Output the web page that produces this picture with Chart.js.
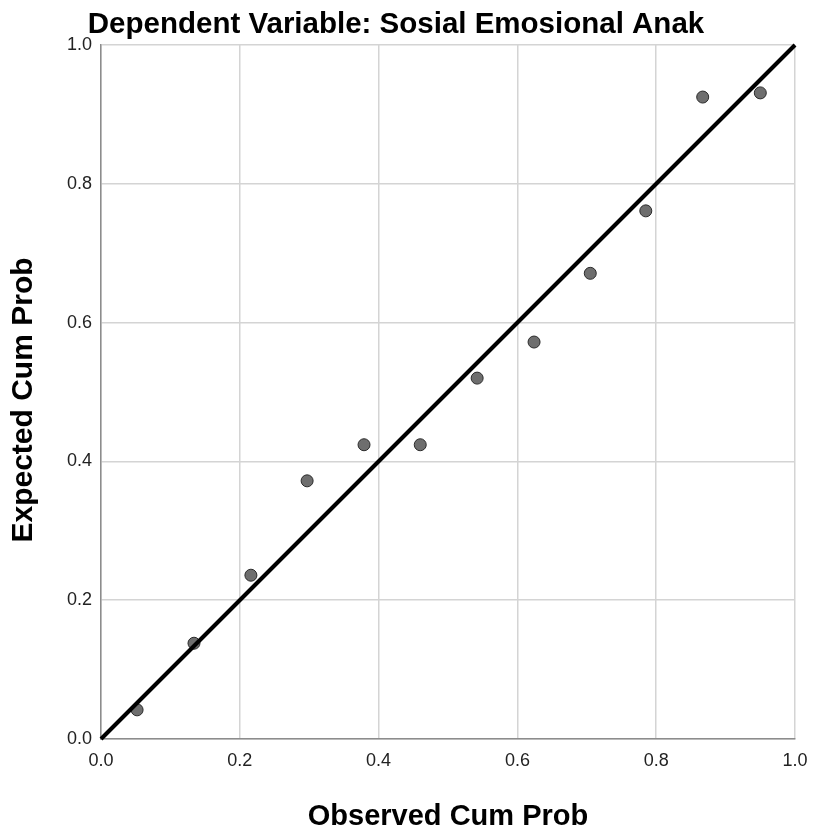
<!DOCTYPE html>
<html>
<head>
<meta charset="utf-8">
<script src="https://cdn.jsdelivr.net/npm/chart.js@4"></script>
<style>
  html, body { margin: 0; padding: 0; background: #fff; }
  #wrap { width: 814px; height: 833px; position: relative; }
</style>
</head>
<body>
<div id="wrap"><canvas id="ppPlot"></canvas></div>
<script>
// Data z grafu (P-P plot)
const chartTitle = 'Dependent Variable: Sosial Emosional Anak';
const xAxisTitle = 'Observed Cum Prob';
const yAxisTitle = 'Expected Cum Prob';
const observedCumProb = [0.052, 0.134, 0.216, 0.297, 0.379, 0.460, 0.542, 0.624, 0.705, 0.785, 0.867, 0.950];
const expectedCumProb = [0.042, 0.138, 0.236, 0.372, 0.424, 0.424, 0.520, 0.572, 0.671, 0.761, 0.925, 0.931];
const refLineX = [0, 1];
const refLineY = [0, 1];
const tickValues = [0, 0.2, 0.4, 0.6, 0.8, 1.0];

const FONT = "'Liberation Sans', Arial, sans-serif";

// Nadpis a názvy osí kreslené vlastným pluginom
const textPlugin = {
    id: 'texts',
    afterDraw(chart) {
        const ctx = chart.ctx;
        const area = chart.chartArea;
        const cx = (area.left + area.right) / 2;
        const cy = (area.top + area.bottom) / 2;
        ctx.save();
        ctx.fillStyle = '#000';
        ctx.textAlign = 'center';
        ctx.textBaseline = 'alphabetic';

        ctx.font = 'bold 29.5px ' + FONT;
        ctx.fillText(chartTitle, 396, 33);

        ctx.font = 'bold 29px ' + FONT;
        ctx.fillText(xAxisTitle, cx, 825);

        ctx.font = 'bold 30px ' + FONT;
        ctx.translate(32, cy + 8);
        ctx.rotate(-Math.PI / 2);
        ctx.fillText(yAxisTitle, 0, 0);
        ctx.restore();
    }
};

function createChart() {
    const ctx = document.getElementById('ppPlot').getContext('2d');
    const points = observedCumProb.map((x, i) => ({ x: x, y: expectedCumProb[i] }));
    const line = refLineX.map((x, i) => ({ x: x, y: refLineY[i] }));

    new Chart(ctx, {
        type: 'scatter',
        data: {
            datasets: [
                {
                    type: 'line',
                    data: line,
                    borderColor: '#000',
                    borderWidth: 4,
                    pointRadius: 0,
                    fill: false,
                    clip: false
                },
                {
                    data: points,
                    backgroundColor: '#6e6e6e',
                    borderColor: '#2a2a2a',
                    borderWidth: 1,
                    pointRadius: 6,
                    pointHoverRadius: 6
                }
            ]
        },
        options: {
            responsive: true,
            maintainAspectRatio: false,
            animation: false,
            layout: { padding: { top: 45, right: 19, left: 0, bottom: 0 } },
            plugins: {
                legend: { display: false },
                tooltip: { enabled: false }
            },
            scales: {
                x: {
                    type: 'linear',
                    min: 0,
                    max: 1,
                    afterBuildTicks: s => { s.ticks = tickValues.map(v => ({ value: v })); },
                    afterFit: s => { s.height = 94; s.paddingLeft = 0; s.paddingRight = 0; },
                    border: { color: '#8c8c8c', width: 1.5 },
                    grid: { color: '#d4d4d4', lineWidth: 1.5, drawTicks: false },
                    ticks: {
                        padding: 11,
                        color: '#222',
                        font: { size: 18, family: FONT },
                        callback: v => Number(v).toFixed(1),
                        maxRotation: 0
                    }
                },
                y: {
                    type: 'linear',
                    min: 0,
                    max: 1,
                    afterBuildTicks: s => { s.ticks = tickValues.map(v => ({ value: v })); },
                    afterFit: s => { s.width = 101; s.paddingTop = 0; s.paddingBottom = 0; },
                    border: { color: '#8c8c8c', width: 1.5 },
                    grid: { color: '#d4d4d4', lineWidth: 1.5, drawTicks: false },
                    ticks: {
                        padding: 9,
                        color: '#222',
                        font: { size: 18, family: FONT },
                        callback: v => Number(v).toFixed(1)
                    }
                }
            }
        },
        plugins: [textPlugin]
    });
}

window.addEventListener('load', createChart);
</script>
</body>
</html>
